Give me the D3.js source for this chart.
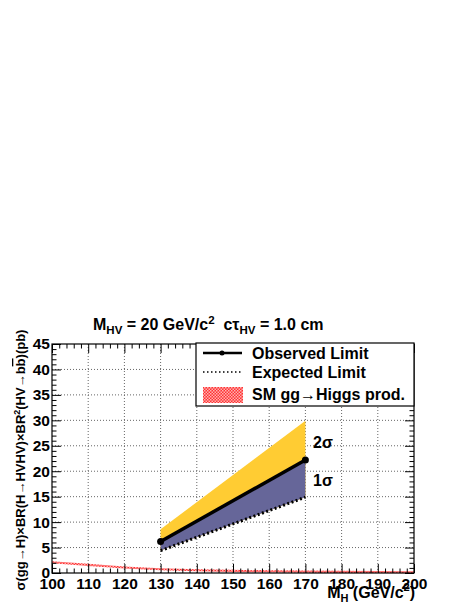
<!DOCTYPE html>
<html>
<head>
<meta charset="utf-8">
<script src="https://cdn.jsdelivr.net/npm/d3@7"></script>
<style>
  body { margin: 0; background: #fff; }
  svg { display: block; font-family: "Liberation Sans", Arial, sans-serif; font-weight: bold; }
</style>
</head>
<body>
<svg id="chart" width="471" height="609"></svg>
<script>
// Data
var massPoints = [130, 170];
var observedLimit = [6.2, 22.2];
var expectedLimit = [4.4, 14.9];
var oneSigmaUp = [6.2, 22.0];
var twoSigmaUp = [8.6, 29.9];

var smMass = [100, 110, 120, 130, 140, 150, 160, 170, 180, 190, 200];
var smXsec = [2.1, 1.6, 1.1, 0.75, 0.55, 0.42, 0.33, 0.27, 0.22, 0.18, 0.15];

var xMajor = [100, 110, 120, 130, 140, 150, 160, 170, 180, 190, 200];
var yMajor = [0, 5, 10, 15, 20, 25, 30, 35, 40, 45];

var legendLabels = ["Observed Limit", "Expected Limit", "SM gg\u2192Higgs prod."];

// Frame (pixel box of the pad)
var frameL = 52, frameR = 414, frameT = 344, frameB = 573;
var svg = d3.select("#chart");

var x = d3.scaleLinear().domain([100, 200]).range([frameL, frameR]);
var y = d3.scaleLinear().domain([0, 45]).range([frameB, frameT]);

var xMinor = d3.range(100, 200.01, 2).filter(function (v) { return v % 10 !== 0; });
var yMinor = d3.range(0, 45.01, 1).filter(function (v) { return v % 5 !== 0; });

// checkered red pattern for SM band
var defs = svg.append("defs");
var pat = defs.append("pattern").attr("id", "redhatch")
    .attr("patternUnits", "userSpaceOnUse").attr("width", 3).attr("height", 3);
pat.append("rect").attr("width", 3).attr("height", 3).attr("fill", "#ff3333");
pat.append("rect").attr("width", 1.5).attr("height", 1.5).attr("fill", "#ffb0b0");
pat.append("rect").attr("x", 1.5).attr("y", 1.5).attr("width", 1.5).attr("height", 1.5).attr("fill", "#ffb0b0");

// grid
var grid = svg.append("g").attr("stroke", "#666").attr("stroke-dasharray", "1,2").attr("stroke-width", 1);
grid.selectAll("line.gx").data(xMajor.slice(1, -1)).enter().append("line")
    .attr("x1", function (d) { return x(d); }).attr("x2", function (d) { return x(d); })
    .attr("y1", frameT).attr("y2", frameB);
grid.selectAll("line.gy").data(yMajor.slice(1, -1)).enter().append("line")
    .attr("x1", frameL).attr("x2", frameR)
    .attr("y1", function (d) { return y(d); }).attr("y2", function (d) { return y(d); });

// bands
var band = d3.area()
    .x(function (d) { return x(d.m); })
    .y0(function (d) { return y(d.lo); })
    .y1(function (d) { return y(d.hi); });

var yellowData = massPoints.map(function (m, i) { return { m: m, lo: expectedLimit[i], hi: twoSigmaUp[i] }; });
var blueData = massPoints.map(function (m, i) { return { m: m, lo: expectedLimit[i], hi: oneSigmaUp[i] }; });

svg.append("path").datum(yellowData).attr("d", band).attr("fill", "#ffcc33");
svg.append("path").datum(blueData).attr("d", band).attr("fill", "#666699");

// SM band
var smData = smMass.map(function (m, i) { return { m: m, lo: smXsec[i] - 0.2, hi: smXsec[i] + 0.2 }; });
svg.append("path").datum(smData).attr("d", band).attr("fill", "url(#redhatch)");

// expected line
var line = d3.line()
    .x(function (d) { return x(d[0]); })
    .y(function (d) { return y(d[1]); });

svg.append("path").datum(d3.zip(massPoints, expectedLimit)).attr("d", line)
    .attr("fill", "none").attr("stroke", "#000").attr("stroke-width", 3)
    .attr("stroke-dasharray", "2,2.5");

// observed
svg.append("path").datum(d3.zip(massPoints, observedLimit)).attr("d", line)
    .attr("fill", "none").attr("stroke", "#000").attr("stroke-width", 3.5);
svg.selectAll("circle.obs").data(d3.zip(massPoints, observedLimit)).enter().append("circle")
    .attr("cx", function (d) { return x(d[0]); }).attr("cy", function (d) { return y(d[1]); })
    .attr("r", 3.5).attr("fill", "#000");

// sigma labels
svg.append("text").attr("x", 313).attr("y", 448).attr("font-size", 16).text("2\u03c3");
svg.append("text").attr("x", 313).attr("y", 486).attr("font-size", 16).text("1\u03c3");

// axes
function drawAxis(axisFn, scale, values, size, labels, tx, ty) {
    var a = axisFn(scale).tickValues(values).tickSize(size).tickSizeOuter(0);
    if (!labels) a.tickFormat("");
    var g = svg.append("g").attr("transform", "translate(" + tx + "," + ty + ")").call(a);
    g.select(".domain").remove();
    g.selectAll("line").attr("stroke", "#000");
    if (!labels) g.selectAll("text").remove();
    return g;
}

var bx = drawAxis(d3.axisBottom, x, xMajor, -9, true, 0, frameB);
bx.selectAll("text").attr("y", 5).attr("font-size", 15.5).attr("font-family", "Liberation Sans")
    .attr("font-weight", "bold").attr("fill", "#000");
drawAxis(d3.axisBottom, x, xMinor, -4.5, false, 0, frameB);
drawAxis(d3.axisTop, x, xMajor, -9, false, 0, frameT);
drawAxis(d3.axisTop, x, xMinor, -4.5, false, 0, frameT);

var ly = drawAxis(d3.axisLeft, y, yMajor, -9, true, frameL, 0);
ly.selectAll("text").attr("x", -2).attr("font-size", 15.5).attr("font-family", "Liberation Sans")
    .attr("font-weight", "bold").attr("fill", "#000");
drawAxis(d3.axisLeft, y, yMinor, -4.5, false, frameL, 0);
drawAxis(d3.axisRight, y, yMajor, -9, false, frameR, 0);
drawAxis(d3.axisRight, y, yMinor, -4.5, false, frameR, 0);

// frame
svg.append("rect").attr("x", frameL).attr("y", frameT).attr("width", frameR - frameL).attr("height", frameB - frameT)
    .attr("fill", "none").attr("stroke", "#000").attr("stroke-width", 1.2);

// legend
var lg = svg.append("g");
lg.append("rect").attr("x", 196).attr("y", 343).attr("width", 218).attr("height", 63)
    .attr("fill", "#fff").attr("stroke", "#000").attr("stroke-width", 1.2);
lg.append("line").attr("x1", 203).attr("x2", 242).attr("y1", 353).attr("y2", 353)
    .attr("stroke", "#000").attr("stroke-width", 2.5);
lg.append("circle").attr("cx", 222).attr("cy", 353).attr("r", 2.5).attr("fill", "#000");
lg.append("line").attr("x1", 203).attr("x2", 242).attr("y1", 372).attr("y2", 372)
    .attr("stroke", "#000").attr("stroke-width", 1.5).attr("stroke-dasharray", "1.5,2.5");
lg.append("rect").attr("x", 203).attr("y", 387).attr("width", 40).attr("height", 16)
    .attr("fill", "url(#redhatch)");
lg.selectAll("text.leg").data(legendLabels).enter().append("text")
    .attr("x", 252).attr("y", function (d, i) { return [359, 378, 400][i]; })
    .attr("font-size", 16).text(function (d) { return d; });

// title
var title = svg.append("text").attr("x", 93).attr("y", 330).attr("font-size", 16);
title.append("tspan").text("M");
title.append("tspan").attr("font-size", 11.5).attr("dy", 4).text("HV");
title.append("tspan").attr("dy", -4).text(" = 20 GeV/c");
title.append("tspan").attr("font-size", 11.5).attr("dy", -6).text("2");
title.append("tspan").attr("dy", 6).text("\u00a0\u00a0c\u03c4");
title.append("tspan").attr("font-size", 11.5).attr("dy", 4).text("HV");
title.append("tspan").attr("dy", -4).text(" = 1.0 cm");

// x-axis title
var xt = svg.append("text").attr("x", 415).attr("y", 598).attr("text-anchor", "end").attr("font-size", 16);
xt.append("tspan").text("M");
xt.append("tspan").attr("font-size", 11).attr("dy", 4).text("H");
xt.append("tspan").attr("dy", -4).text(" (GeV/c");
xt.append("tspan").attr("font-size", 11).attr("dy", -7).text("2");
xt.append("tspan").attr("dy", 7).text(")");

// y-axis title
var yt = svg.append("text").attr("transform", "translate(25,460) rotate(-90)")
    .attr("text-anchor", "middle").attr("font-size", 13);
yt.append("tspan").text("\u03c3(gg\u2192H)\u00d7BR(H\u2192HVHV)\u00d7BR");
yt.append("tspan").attr("font-size", 9).attr("dy", -5).text("2");
yt.append("tspan").attr("dy", 5).text("(HV\u2192b");
yt.append("tspan").attr("text-decoration", "overline").text("b");
yt.append("tspan").text(")(pb)");
</script>
</body>
</html>
